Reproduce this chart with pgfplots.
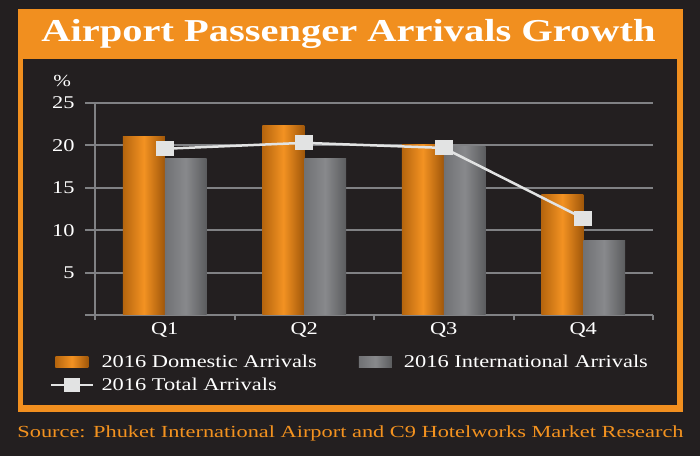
\documentclass[border=0pt]{standalone}
\usepackage{fontspec}
\setmainfont{Liberation Serif}[FakeStretch=1.25]
\newfontfamily\titlefont{Liberation Serif}[FakeStretch=1.27]
\newfontfamily\srcfont{Liberation Serif}[FakeStretch=1.32]
\usepackage{pgfplots}
\pgfplotsset{compat=1.18}
\definecolor{bgdark}{HTML}{231F20}
\definecolor{frameorange}{HTML}{F18F1F}
\definecolor{gridgray}{HTML}{808184}
\definecolor{oL}{HTML}{B5650E}
\definecolor{oM}{HTML}{F39222}
\definecolor{oR}{HTML}{A0570A}
\definecolor{gL}{HTML}{707174}
\definecolor{gM}{HTML}{88898C}
\definecolor{gR}{HTML}{5B5C5E}
\definecolor{linegray}{HTML}{E2E3E3}
\definecolor{srcorange}{HTML}{F3921F}
\pgfplotsset{
  barleg/.style={legend image code/.code={\path (0bp,0bp) (47bp,0bp); \fill[##1] (4bp,-5.5bp) rectangle (37bp,5.5bp);}},
  lineleg/.style={legend image code/.code={\path (0bp,0bp) (47bp,0bp); \draw[##1] (0bp,0bp) -- (42bp,0bp); \path[##1] plot[mark size=5.5bp] coordinates {(21bp,0bp)};}},
  dom/.style={ybar, bar width=0.3, bar shift=-0.15, draw=none, left color=oL, right color=oR, middle color=oM, barleg},
  intl/.style={ybar, bar width=0.3, bar shift=0.15, draw=none, left color=gL, right color=gR, middle color=gM, barleg},
}
\begin{document}
\begin{tikzpicture}[x=1bp,y=1bp]
\fill[bgdark] (0,0) rectangle (700,456);
\fill[frameorange] (18,44) rectangle (683,447);
\fill[bgdark] (23,51) rectangle (677,397);
\node[anchor=base, white, inner sep=0pt] at (348.5,414) {\titlefont\bfseries\fontsize{32}{36}\selectfont Airport Passenger Arrivals Growth};
\node[anchor=base, srcorange, inner sep=0pt] at (350.5,18.5) {\srcfont\fontsize{17}{20}\selectfont Source: Phuket International Airport and C9 Hotelworks Market Research};
\begin{axis}[
  at={(95bp,141bp)}, anchor=south west,
  scale only axis, width=558bp, height=212bp,
  xmin=-0.5, xmax=3.5, ymin=0, ymax=25,
  axis x line*=bottom, axis y line*=left,
  axis line style={draw=gridgray, line width=2bp},
  xtick={-0.5,0.5,1.5,2.5,3.5}, xticklabels={},
  extra x ticks={0,1,2,3}, extra x tick labels={Q1,Q2,Q3,Q4},
  extra x tick style={major tick length=0pt, xtick style={draw=none}, grid=none,
     xticklabel style={yshift=-4bp}},
  ytick=\empty,
  extra y ticks={0,5,10,15,20,25}, extra y tick labels={,5,10,15,20,25},
  extra y tick style={major tick length=10bp, grid=major, yticklabel style={xshift=-7bp}},
  grid style={draw=gridgray, line width=2bp},
  tick align=outside, major tick length=5bp,
  tick style={draw=gridgray, line width=2bp},
  ticklabel style={text=white, font=\fontsize{18}{21}\selectfont},
  /pgf/number format/assume math mode=true,
  every axis y label/.style={at={(axis description cs:-0.059,1.104)}, anchor=center, text=white, font=\fontsize{17}{20}\selectfont},
  ylabel={\%},
  legend columns=2,
  legend cell align=left,
  legend style={draw=none, fill=none, inner sep=0pt, outer sep=0pt,
    at={(axis description cs:-0.0806,-0.179)}, anchor=north west,
    text=white, font=\fontsize{18}{21}\selectfont, row sep=5bp,
    /tikz/every even column/.append style={column sep=36bp}},
]
\addplot[dom] coordinates {(0,21.0)};
\addlegendentry{2016 Domestic Arrivals}
\addplot[intl] coordinates {(0,18.5)};
\addlegendentry{2016 International Arrivals}
\addplot[dom, forget plot] coordinates {(1,22.4)};
\addplot[dom, forget plot] coordinates {(2,20.1)};
\addplot[dom, forget plot] coordinates {(3,14.2)};
\addplot[intl, forget plot] coordinates {(1,18.5)};
\addplot[intl, forget plot] coordinates {(2,19.9)};
\addplot[intl, forget plot] coordinates {(3,8.8)};
\addplot[color=linegray, line width=2.5bp, mark=square*, mark size=6.25bp,
  mark options={xscale=1.25, fill=linegray, draw=none}, lineleg]
  coordinates {(0,19.6) (1,20.3) (2,19.7) (3,11.4)};
\addlegendentry{2016 Total Arrivals}
\end{axis}
\end{tikzpicture}
\end{document}
